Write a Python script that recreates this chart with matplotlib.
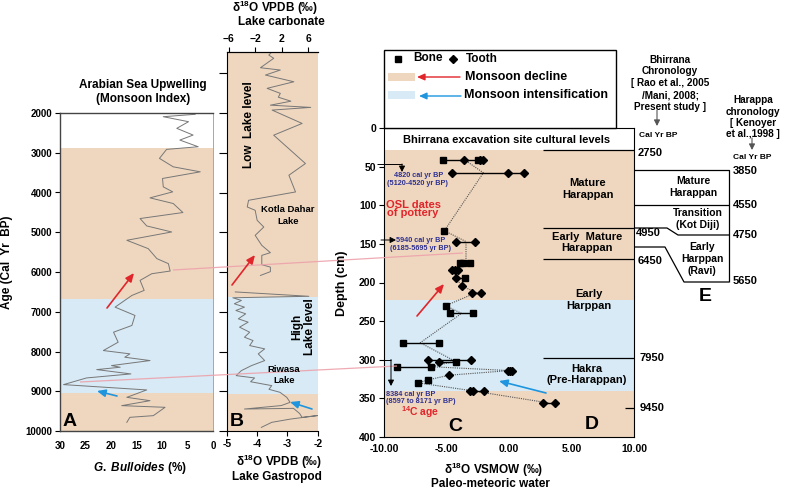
import matplotlib
matplotlib.use('Agg')
import matplotlib.pyplot as plt
from matplotlib.patches import Rectangle

plt.rcParams['font.family'] = ['Liberation Sans', 'DejaVu Sans']
plt.rcParams['font.weight'] = 'bold'
plt.rcParams['mathtext.fontset'] = 'custom'
plt.rcParams['mathtext.rm'] = 'Liberation Sans:bold'
plt.rcParams['mathtext.it'] = 'Liberation Sans:italic:bold'
plt.rcParams['mathtext.bf'] = 'Liberation Sans:bold'

# ---------------- DATA ----------------
# Panel A: Arabian Sea upwelling (G. bulloides %)
a_age = [2033, 2093, 2219, 2386, 2555, 2681, 2849, 2915, 3142, 3354, 3480, 3647, 3858, 3984,
         4135, 4277, 4504, 4655, 4841, 4993, 5202, 5412, 5664, 5790, 5976, 6043, 6211, 6463,
         6589, 6884, 7093, 7345, 7514, 7766, 7976, 8059, 8144, 8228, 8354, 8396, 8455, 8564,
         8665, 8833, 8967, 9153, 9237, 9362, 9404, 9614, 9656, 9782]
a_gb = [3.5, 9.75, 4.8, 7.1, 3.9, 6.5, 2.9, 9.1, 10.5, 7.8, 2.5, 9.9, 9.75, 7.9,
        12.35, 7.8, 5.9, 14.3, 13.0, 8.1, 16.9, 12.7, 11.0, 8.75, 8.4, 12.0, 14.3, 13.5,
        15.9, 19.2, 15.3, 15.9, 19.5, 18.6, 21.5, 16.3, 17.3, 12.35, 19.9, 18.2, 22.8, 16.1,
        24.8, 29.3, 13.0, 16.9, 12.35, 17.9, 9.4, 11.7, 16.3, 16.9]
a_zones = [(2880, 6680, 'decline'), (6680, 9040, 'intens'), (9040, 10000, 'decline')]

# Panel B: lake carbonate (top axis) and lake gastropod (bottom axis)
b_carb_age = [455, 538, 621, 858, 916, 1042, 1211, 1377, 1503, 1600, 1700, 1800, 1856, 1924,
              2260, 2555, 3269, 3563, 3984, 4194, 4362, 4446, 4698, 4867, 5076, 5328, 5512,
              5580, 5815, 5875, 5990, 6085]
b_carb_val = [0.56, 0.06, 0.8, -1.2, 1.8, -0.45, 3.85, -0.2, 1.8, 1.5, 3.4, 0.3, 6.4, 0.56,
              5.1, 0.8, 5.6, 3.1, 4.1, -3.0, -3.2, -2.0, -1.7, -0.7, -2.0, -1.0, 0.3,
              -1.0, -1.0, 0.3, 0.3, -1.2]
b_gast_age = [6500, 6610, 6647, 6715, 6798, 6883, 6967, 7051, 7177, 7261, 7387, 7514, 7640, 7724,
              7850, 7933, 8059, 8228, 8354, 8480, 8606, 8665, 8760, 8858, 8950, 9027, 9153,
              9279, 9360, 9447, 9430, 9560, 9657, 9610, 9700, 9782, 9909]
b_gast_val = [-4.7, -2.3, -4.78, -4.5, -4.73, -4.4, -4.68, -4.36, -4.6, -4.28, -4.56, -4.23, -4.4,
              -4.12, -4.23, -3.74, -3.95, -3.74, -4.17, -4.5, -4.67, -4.07, -4.2, -3.51, -3.6,
              -3.24, -3.02, -2.91, -3.2, -4.4, -2.8, -2.6, -2.52, -2.0, -2.9, -3.51, -3.85]
b_zones = [(462, 6640, 'decline'), (6640, 9060, 'intens'), (9060, 10000, 'decline')]

# Panel C: Bhirrana bone / tooth d18O (VSMOW) vs depth
c_depth = [41, 58, 133, 147, 175, 184, 194, 205, 213, 230, 240, 278, 300, 303, 309, 314,
           320, 326, 330, 340, 356]
c_bone = [[-5.25, -2.5], [], [-5.17], [], [-3.92, -3.65, -3.12], [], [-3.52], [], [],
          [-5.07], [-4.69, -2.91], [-8.45, -5.6], [], [-4.27], [-8.93, -6.24], [], [],
          [-6.45], [-7.25], [], []]
c_tooth = [[-3.57, -2.32, -2.05], [-4.6, -0.05, 1.2], [], [-4.24, -2.72], [],
           [-4.53, -4.32, -4.1], [-4.27], [-3.73], [-2.93, -2.24], [], [], [],
           [-6.45, -3.04], [-5.57], [], [-0.1, 0.05, 0.25], [-4.8], [], [],
           [-3.12, -2.85, -1.97], [2.75, 3.68]]
c_path_x = [-3.57, -2.05, -5.17, -3.44, -3.44, -4.3, -4.27, -3.73, -2.6, -5.07, -3.8, -7.1,
            -4.3, -6.24, 0.05, -4.8, -6.45, -7.25, -3.0, 3.2]
c_path_d = [41, 58, 133, 147, 175, 184, 194, 205, 213, 230, 240, 278, 302, 309, 314, 320,
            326, 330, 340, 356]
c_zones = [(28.5, 222.8, 'decline'), (222.8, 340, 'intens'), (340, 400, 'decline')]
c_level_depths = [28.5, 129, 169, 298]
c_xticks = [-10, -5, 0, 5, 10]
c_xticklabels = ['-10.00', '-5.00', '0.00', '5.00', '10.00']

# ---------------- STYLE ----------------
TAN = '#EFD7BF'
BLUE = '#D7EAF5'
ZC = {'decline': TAN, 'intens': BLUE}
RED = '#E0252B'
BLU = '#1E95DE'
DATE = '#2E3192'
PINK = '#EDA2AB'
W, H = 787, 490

fig = plt.figure(figsize=(7.87, 4.90), dpi=100)


def rect(x0, y0, x1, y1):
    return [x0 / W, 1 - y1 / H, (x1 - x0) / W, (y1 - y0) / H]


def style_ticks(ax, size=7):
    ax.tick_params(direction='out', length=3.5, width=0.8, labelsize=size, pad=2)
    for lab in ax.get_xticklabels() + ax.get_yticklabels():
        lab.set_fontweight('bold')


# ---------------- Panel A ----------------
axA = fig.add_axes(rect(60, 113, 213, 431))
for y0, y1, k in a_zones:
    axA.axhspan(y0, y1, color=ZC[k], lw=0, zorder=0)
axA.plot(a_gb, a_age, color='#777777', lw=0.7, zorder=2)
axA.set_ylim(10000, 2000)
axA.set_xlim(30, 0)
axA.set_yticks(range(2000, 10001, 1000))
axA.set_xticks([30, 25, 20, 15, 10, 5, 0])
style_ticks(axA, 7)
axA.tick_params(axis='x', length=0, pad=7)
axA.spines['right'].set_color('#999999')
axA.spines['right'].set_linewidth(0.6)
for s in ['left', 'bottom', 'top']:
    axA.spines[s].set_color('#444444')
    axA.spines[s].set_linewidth(1.0)

# ---------------- Panel B ----------------
axB = fig.add_axes(rect(227, 52, 318, 431))
for y0, y1, k in b_zones:
    axB.axhspan(y0, y1, color=ZC[k], lw=0, zorder=0)
axB.plot(b_gast_val, b_gast_age, color='#777777', lw=0.7, zorder=2)
axB.set_ylim(10000, 462)
axB.set_xlim(-4.97, -2.0)
axB.set_yticks(range(1000, 10001, 1000))
axB.set_yticklabels([])
axB.spines['right'].set_visible(False)
axB.set_xticks([-4.97, -4, -3, -2.0])
axB.set_xticklabels(['-5', '-4', '-3', '-2'])
style_ticks(axB, 7.5)
axB.tick_params(axis='y', length=6)
axBt = axB.twiny()
axBt.plot(b_carb_val, b_carb_age, color='#777777', lw=0.7, zorder=2)
axBt.set_xlim(-6.26, 7.5)
axBt.set_xticks([-6, -2, 2, 6])
for s in ['left', 'right', 'bottom']:
    axBt.spines[s].set_visible(False)
style_ticks(axBt, 7.5)
axBt.set_ylim(10000, 462)

# ---------------- Panel C ----------------
axC = fig.add_axes(rect(384, 128, 634, 437))
for y0, y1, k in c_zones:
    axC.axhspan(y0, y1, color=ZC[k], lw=0, zorder=0)
axC.plot(c_path_x, c_path_d, color='#555555', lw=0.8, ls=(0, (1, 1)), zorder=2)
for d, bones, teeth in zip(c_depth, c_bone, c_tooth):
    allx = bones + teeth
    if len(allx) > 1:
        axC.plot([min(allx), max(allx)], [d, d], color='black', lw=1.0, zorder=3)
    if bones:
        axC.plot(bones, [d] * len(bones), 's', color='black', ms=4.2, zorder=4)
    if teeth:
        axC.plot(teeth, [d] * len(teeth), 'D', color='black', ms=4.0, zorder=4)
axC.hlines(c_level_depths, 2.72, 10, color='black', lw=0.9, zorder=1)
axC.hlines([363], 9.3, 10, color='black', lw=0.9, zorder=1)
axC.set_xlim(-10, 10)
axC.set_ylim(400, 0)
axC.set_xticks(c_xticks)
axC.set_xticklabels(c_xticklabels)
axC.set_yticks(range(0, 401, 50))
style_ticks(axC, 7.5)
axC.tick_params(axis='x', length=0, pad=5)

# ---------------- Overlay (annotations, pixel coords) ----------------
ov = fig.add_axes([0, 0, 1, 1], zorder=10)
ov.set_xlim(0, W)
ov.set_ylim(H, 0)
ov.axis('off')
ov.patch.set_alpha(0)


def T(x, y, s, size=8, ha='center', va='center', color='black', **kw):
    kw.setdefault('fontweight', 'bold')
    ov.text(x, y, s, fontsize=size, ha=ha, va=va, color=color, **kw)


def arrow(x0, y0, x1, y1, color, lw=1.2, hl=0.5, hw=0.22):
    ov.annotate('', xy=(x1, y1), xytext=(x0, y0),
                arrowprops=dict(arrowstyle='-|>,head_length=%s,head_width=%s' % (hl, hw),
                                color=color, lw=lw, shrinkA=0, shrinkB=0))


def L(xs, ys, color='black', lw=0.9, **kw):
    ov.plot(xs, ys, color=color, lw=lw, solid_capstyle='butt', **kw)


# Panel A texts
T(143, 85, 'Arabian Sea Upwelling', 8.5)
T(143, 99, '(Monsoon Index)', 8.5)
T(7, 262, 'Age (Cal  Yr  BP)', 8.5, rotation=90)
T(140, 468, r'$\it{G.\ Bulloides}$ (%)', 8.5)
T(70, 421, 'A', 14)

# Panel B texts
T(275, 8, 'δ$^{18}$O VPDB (‰)', 8.5)
T(281, 22, 'Lake carbonate', 8.5)
T(279, 462, 'δ$^{18}$O VPDB (‰)', 8.5)
T(277, 477, 'Lake Gastropod', 8.5)
T(249, 125, 'Low  Lake level', 8.5, rotation=90)
T(288, 209, 'Kotla Dahar', 6.8)
T(288, 221, 'Lake', 6.8)
T(304, 327, 'High\nLake level', 8.5, rotation=90, linespacing=1.1)
T(284, 369, 'Riwasa', 6.8)
T(284, 380, 'Lake', 6.8)
T(237, 421, 'B', 14)

# Panel C texts
T(342, 283, 'Depth (cm)', 9, rotation=90)
T(494, 470, 'δ$^{18}$O VSMOW (‰)', 8.5)
T(490, 484, 'Paleo-meteoric water', 8.5)
T(507, 140, 'Bhirrana excavation site cultural levels', 8)
T(419, 175.5, '4820 cal yr BP', 5.2, color=DATE)
T(417, 183.5, '(5120-4520 yr BP)', 5.2, color=DATE)
T(413, 204.5, 'OSL dates', 8, color=RED)
T(413, 213, 'of pottery', 8, color=RED)
T(421, 240, '5940 cal yr BP', 5.2, color=DATE)
T(421, 248.5, '(6185-5695 yr BP)', 5.2, color=DATE)
T(386, 394, '8384 cal yr BP', 5.2, ha='left', color=DATE)
T(386, 401.5, '(8597 to 8171 yr BP)', 5.2, ha='left', color=DATE)
T(401, 412, '$^{14}$C age', 7.5, ha='left', color=RED)
T(588, 182.5, 'Mature', 8)
T(588, 194.5, 'Harappan', 8)
T(587, 237, 'Early  Mature', 8)
T(587, 248, 'Harappan', 8)
T(589, 294, 'Early', 8)
T(589, 306, 'Harppan', 8)
T(587, 368.5, 'Hakra', 8)
T(587, 380, '(Pre-Harappan)', 8)
T(455, 426, 'C', 14)
T(592, 424, 'D', 14)
# date arrows
L([377, 402], [164, 164], lw=0.7)
arrow(402, 164, 402, 172, 'black', lw=0.7, hl=0.35, hw=0.18)
arrow(381, 240, 396, 240, 'black', lw=0.7, hl=0.35, hw=0.18)
L([381, 391], [359.5, 359.5], lw=0.7)
arrow(391, 359.5, 391, 386, 'black', lw=0.7, hl=0.35, hw=0.18)

# Legend box
ov.add_patch(Rectangle((384, 50), 232, 78, facecolor='white', edgecolor='black', lw=1.0, zorder=1))
ov.plot([398], [59], 's', color='black', ms=5, zorder=3)
T(413, 58, 'Bone', 8.5, ha='left')
ov.plot([453], [59], 'D', color='black', ms=4.5, zorder=3)
T(466, 58.5, 'Tooth', 8.5, ha='left')
ov.add_patch(Rectangle((388, 73), 27, 8, facecolor=TAN, edgecolor='none', zorder=2))
ov.add_patch(Rectangle((388, 91), 27, 8, facecolor=BLUE, edgecolor='none', zorder=2))
arrow(460, 77, 417, 77, RED, lw=1.0, hl=0.45, hw=0.2)
arrow(461, 96, 419, 96, BLU, lw=1.0, hl=0.45, hw=0.2)
T(465, 77, 'Monsoon decline', 9, ha='left')
T(464, 95.5, 'Monsoon intensification', 9, ha='left')

# Trend arrows
arrow(107, 308, 134, 273, RED)
arrow(117, 396, 97, 391, BLU)
arrow(232, 285, 255, 255, RED)
arrow(312, 409, 290, 402, BLU)
arrow(417, 316, 444, 284, RED)
arrow(546, 393, 499, 381, BLU)

# Pink correlation lines
L([173, 463], [270, 253], color=PINK, lw=0.9, alpha=0.9)
L([80, 397], [382, 366], color=PINK, lw=0.9, alpha=0.9)

# Panel E (chronologies)
T(670, 60, 'Bhirrana', 7.2)
T(670, 71.5, 'Chronology', 7.2)
T(670, 83.5, '[ Rao et al., 2005', 7.2)
T(670, 95.5, '/Mani, 2008;', 7.2)
T(670, 107, 'Present study ]', 7.2)
arrow(657, 110, 657, 126, '#555555', lw=0.8, hl=0.35, hw=0.18)
T(753, 100, 'Harappa', 7.2)
T(753, 112, 'chronology', 7.2)
T(753, 122.5, '[ Kenoyer', 7.2)
T(753, 133.5, 'et al.,1998 ]', 7.2)
arrow(752, 138, 752, 150, '#555555', lw=0.8, hl=0.35, hw=0.18)
T(639, 135, 'Cal Yr BP', 6, ha='left')
T(752, 157, 'Cal Yr BP', 6)
T(638, 153, '2750', 8, ha='left')
T(636, 233, '4950', 8, ha='left')
T(638, 261, '6450', 8, ha='left')
T(640, 358, '7950', 8, ha='left')
T(640, 408, '9450', 8, ha='left')
T(733, 171, '3850', 8, ha='left')
T(733, 205, '4550', 8, ha='left')
T(733, 235, '4750', 8, ha='left')
T(733, 281, '5650', 8, ha='left')
L([634, 729, 729], [170, 170, 282])
L([634, 729], [205, 205])
L([634, 667, 678, 729], [228, 228, 235, 235])
L([634, 665, 684, 729], [247, 247, 282, 282])
T(693, 181, 'Mature', 7.5)
T(693, 193, 'Harappan', 7.5)
T(698, 212.5, 'Transition', 7.5)
T(698, 225, '(Kot Diji)', 7.5)
T(702, 246.5, 'Early', 7.5)
T(702, 258.5, 'Harppan', 7.5)
T(702, 270.5, '(Ravi)', 7.5)
T(705, 296, 'E', 14)

fig.savefig('out.png', dpi=100)
